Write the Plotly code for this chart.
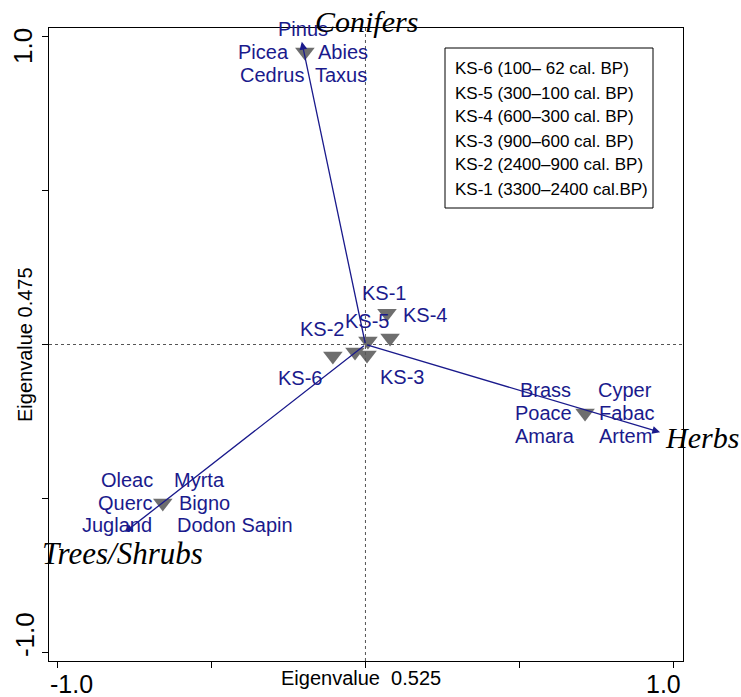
import plotly.graph_objects as go

# ---------------- data ----------------
sample_names = ["KS-1", "KS-2", "KS-3", "KS-4", "KS-5", "KS-6"]
sample_x = [0.070, -0.034, 0.005, 0.080, 0.008, -0.106]
sample_y = [0.102, -0.024, -0.034, 0.021, 0.011, -0.037]

group_names = ["Conifers", "Herbs", "Trees/Shrubs"]
group_x = [-0.197, 0.714, -0.659]          # triangle (taxa centroid) positions
group_y = [0.951, -0.223, -0.515]
arrow_x = [-0.207, 0.958, -0.782]          # arrow tips
arrow_y = [0.984, -0.285, -0.610]

conifer_taxa = ["Pinus", "Picea", "Abies", "Cedrus", "Taxus"]
herb_taxa = ["Brass", "Cyper", "Poace", "Fabac", "Amara", "Artem"]
tree_taxa = ["Oleac", "Myrta", "Querc", "Bigno", "Jugland", "Dodon Sapin"]

legend_lines = [
    "KS-6 (100\u2013 62 cal. BP)",
    "KS-5 (300\u2013100 cal. BP)",
    "KS-4 (600\u2013300 cal. BP)",
    "KS-3 (900\u2013600 cal. BP)",
    "KS-2 (2400\u2013900 cal. BP)",
    "KS-1 (3300\u20132400 cal.BP)",
]

x_ticks = [-1.0, -0.5, 0.0, 0.5, 1.0]
y_ticks = [-1.0, -0.5, 0.0, 0.5, 1.0]
end_ticks = [-1.0, 1.0]
end_ticktext = ["-1.0", "1.0"]

x_title = "Eigenvalue  0.525"
y_title = "Eigenvalue 0.475"

# ---------------- styles / label offsets (pixels) ----------------
NAVY = "#1a1a8c"
GREY = "#6e6e6e"
SANS = "Liberation Sans, Arial, sans-serif"
SERIF = "Liberation Serif, Times New Roman, serif"

ML, MR, MT, MB = 49, 58, 28, 36
W, H = 741, 697
PW, PH = W - ML - MR, H - MT - MB


def px(xpix):
    return (xpix - ML) / PW


def py(ypix):
    return (H - MB - ypix) / PH


sample_offsets = {"KS-1": (-3, 20), "KS-2": (-33, 23), "KS-3": (35, -22),
                  "KS-4": (35, 23), "KS-5": (-1, 20), "KS-6": (-33, -22)}
taxa_offsets = [
    [(-2, 23), (-41, 0), (38, 0), (-33, -23), (36, -23)],
    [(-40, 23), (40, 23), (-42, 0), (42, 0), (-40, -23), (40, -23)],
    [(-36, 23), (37, 23), (-38, 0), (42, 0), (-46, -22), (72, -22)],
]
group_label_style = [
    dict(xanchor="left", xshift=11, yshift=20, size=30),
    dict(xanchor="left", xshift=3, yshift=-5, size=30),
    dict(xanchor="center", xshift=-2, yshift=-21, size=31),
]
x_end_shift = [14, -10]     # end tick labels pulled inward, as in the reference
y_end_shift = [17, -9]

fig = go.Figure()

# triangles: group centroids + samples
fig.add_trace(go.Scatter(
    x=group_x + sample_x, y=group_y + sample_y, mode="markers",
    marker=dict(symbol="triangle-down", size=17, color=GREY),
    hoverinfo="skip", showlegend=False))

ann = []
# arrows
for gx, gy in zip(arrow_x, arrow_y):
    ann.append(dict(x=gx, y=gy, ax=0, ay=0, xref="x", yref="y", axref="x", ayref="y",
                    text="", showarrow=True, arrowhead=2, arrowsize=1.2,
                    arrowwidth=1.3, arrowcolor=NAVY, standoff=0))

# taxa labels
for taxa, offs, gx, gy in zip([conifer_taxa, herb_taxa, tree_taxa], taxa_offsets, group_x, group_y):
    for t, (dx, dy) in zip(taxa, offs):
        ann.append(dict(x=gx, y=gy, xref="x", yref="y", text=t, showarrow=False,
                        xanchor="center", yanchor="middle", xshift=dx, yshift=dy,
                        font=dict(family=SANS, size=20, color=NAVY)))

# sample labels
for n, sx, sy in zip(sample_names, sample_x, sample_y):
    dx, dy = sample_offsets[n]
    ann.append(dict(x=sx, y=sy, xref="x", yref="y", text=n, showarrow=False,
                    xanchor="center", yanchor="middle", xshift=dx, yshift=dy,
                    font=dict(family=SANS, size=20, color=NAVY)))

# group labels
for name, gx, gy, st in zip(group_names, arrow_x, arrow_y, group_label_style):
    st = dict(st)
    size = st.pop("size")
    ann.append(dict(x=gx, y=gy, xref="x", yref="y", text=f"<i>{name}</i>", showarrow=False,
                    yanchor="middle", font=dict(family=SERIF, size=size, color="black"), **st))

# legend box text
for i, line in enumerate(legend_lines):
    ann.append(dict(x=px(453), y=py(69 + 24 * i), xref="paper", yref="paper",
                    text=line, showarrow=False, xanchor="left", yanchor="middle",
                    font=dict(family=SANS, size=17, color="black")))

# end tick labels
for v, t, s in zip(end_ticks, end_ticktext, x_end_shift):
    ann.append(dict(x=v, y=py(684), xref="x", yref="paper", text=t, showarrow=False,
                    xanchor="center", yanchor="middle", xshift=s,
                    font=dict(family=SANS, size=25, color="black")))
for v, t, s, xp in zip(end_ticks, end_ticktext, y_end_shift, [25, 23]):
    ann.append(dict(x=px(xp), y=v, xref="paper", yref="y", text=t, showarrow=False,
                    xanchor="center", yanchor="middle", yshift=s, textangle=-90,
                    font=dict(family=SANS, size=26, color="black")))

# axis titles
ann.append(dict(x=px(361), y=py(678), xref="paper", yref="paper", text=x_title,
                showarrow=False, xanchor="center", yanchor="middle",
                font=dict(family=SANS, size=20, color="black")))
ann.append(dict(x=px(25), y=py(345), xref="paper", yref="paper", text=y_title,
                showarrow=False, xanchor="center", yanchor="middle", textangle=-90,
                font=dict(family=SANS, size=20, color="black")))

shapes = [
    dict(type="line", xref="x", yref="paper", x0=0, x1=0, y0=0, y1=1,
         line=dict(color="#555555", width=1, dash="dot")),
    dict(type="line", xref="paper", yref="y", x0=0, x1=1, y0=0, y1=0,
         line=dict(color="#555555", width=1, dash="dot")),
    dict(type="rect", xref="paper", yref="paper",
         x0=px(445), x1=px(653), y0=py(208), y1=py(48),
         line=dict(color="black", width=1), fillcolor="white", layer="below"),
]

axis_common = dict(showgrid=False, zeroline=False, showline=True, linecolor="black",
                   linewidth=1, mirror=True, ticks="outside", ticklen=6, tickcolor="black",
                   showticklabels=False, automargin=False)

fig.update_layout(
    width=W, height=H,
    margin=dict(l=ML, r=MR, t=MT, b=MB, autoexpand=False),
    paper_bgcolor="white", plot_bgcolor="white",
    xaxis=dict(range=[-1.029, 1.0325], tickvals=x_ticks, **axis_common),
    yaxis=dict(range=[-1.029, 1.029], tickvals=y_ticks, **axis_common),
    annotations=ann, shapes=shapes, showlegend=False,
)

fig.write_html("out.html")
